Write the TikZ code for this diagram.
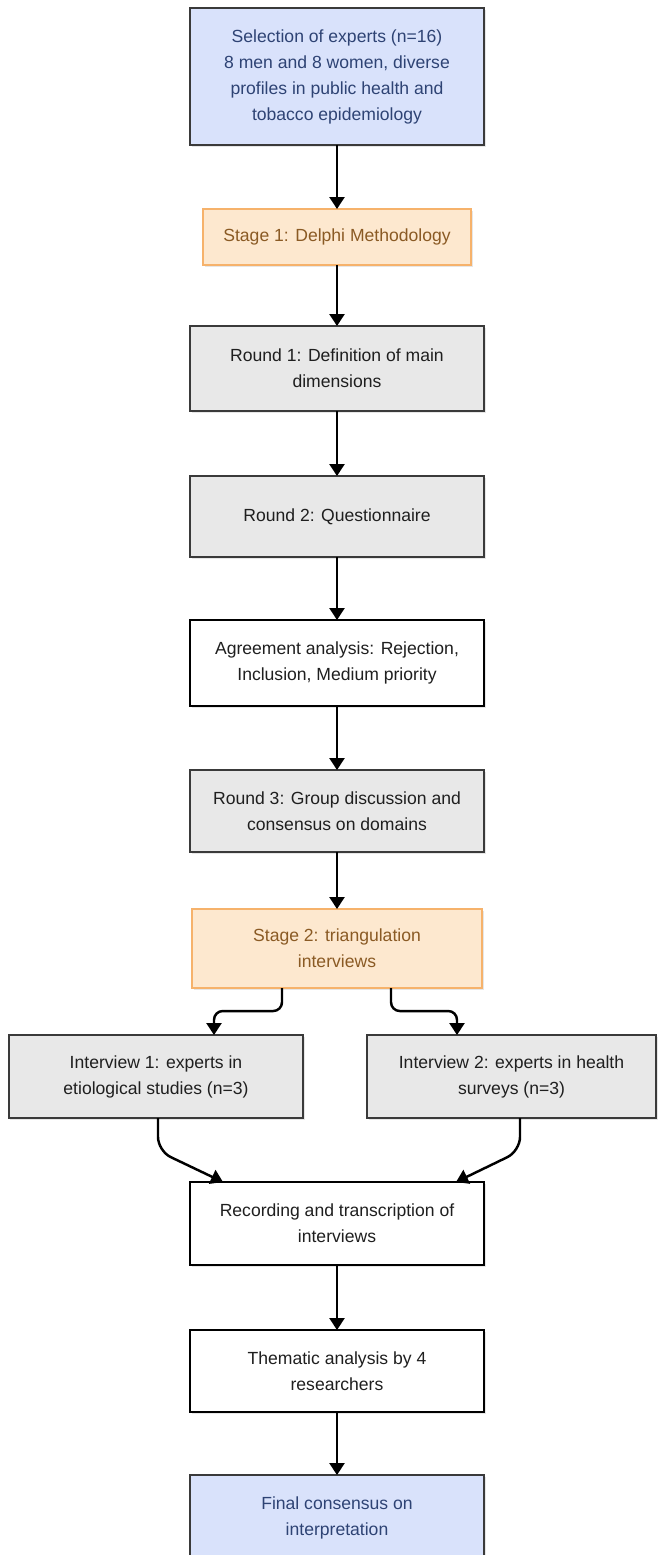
\documentclass[tikz,border=0pt]{standalone}
\usepackage{fontspec}
\setmainfont{Liberation Sans}
\usetikzlibrary{arrows.meta, positioning, shadows}
\definecolor{cblue}{HTML}{D9E2FB}
\definecolor{cbluetxt}{HTML}{2E4374}
\definecolor{corange}{HTML}{FDE8CF}
\definecolor{corangeln}{HTML}{F6B26B}
\definecolor{corangetxt}{HTML}{8A5A24}
\definecolor{cgray}{HTML}{E8E8E8}
\definecolor{cline}{HTML}{3A3A3A}

\begin{document}
\begin{tikzpicture}[
  x=0.2mm, y=-0.2mm,
  font=\fontsize{10}{14.8}\selectfont,
  >={Triangle[length=2.4mm, width=3mm]},
  box/.style={draw=cline, line width=1.1pt, align=center, minimum width=58.8mm,
              minimum height=16.6mm, inner sep=0pt, outer sep=0pt, text=black!88,
              drop shadow={shadow xshift=0.3mm, shadow yshift=-0.4mm, opacity=0.2}},
  blu/.style={box, fill=cblue, text=cbluetxt},
  stg/.style={box, fill=corange, draw=corangeln, line width=0.6pt, text=corangetxt},
  rnd/.style={box, fill=cgray},
  chk/.style={box, fill=white, draw=black, line width=1.6pt},
  arr/.style={->, line width=1.4pt, draw=black},
  ]
\clip (0,0) rectangle (658,1555);

\node[blu, minimum height=27.4mm] (sel) at (337,76.5) {Selection of experts (n=16)\\8 men and 8 women, diverse\\profiles in public health and\\tobacco epidemiology};
\node[stg, minimum width=53.6mm, minimum height=11.2mm, below=12.8mm of sel] (st1) {Stage 1: Delphi Methodology};
\node[rnd, minimum height=17mm, below=12.2mm of st1] (r1) {Round 1: Definition of main\\dimensions};
\node[rnd, minimum height=16.2mm, below=13mm of r1] (r2) {Round 2: Questionnaire};
\node[chk, minimum height=17.2mm, below=12.6mm of r2] (agr) {Agreement analysis: Rejection,\\Inclusion, Medium priority};
\node[rnd, minimum height=16.4mm, below=12.8mm of agr] (r3) {Round 3: Group discussion and\\consensus on domains};
\node[stg, minimum width=58mm, minimum height=15.8mm, below=11.4mm of r3] (st2) {Stage 2: triangulation\\interviews};

\node[rnd, below=9.4mm of st2, xshift=-36.2mm] (int1) {Interview 1: experts in\\etiological studies (n=3)};
\node[rnd, minimum width=57.8mm, below=9.4mm of st2, xshift=34.9mm] (int2) {Interview 2: experts in health\\surveys (n=3)};

\node[chk, below=38.8mm of st2] (rec) {Recording and transcription of\\interviews};
\node[chk, minimum height=16.4mm, below=13mm of rec] (them) {Thematic analysis by 4\\researchers};
\node[blu, minimum height=17mm, below=12.6mm of them] (fin) {Final consensus on\\interpretation};

\draw[arr] (sel) -- (st1);
\draw[arr] (st1) -- (r1);
\draw[arr] (r1) -- (r2);
\draw[arr] (r2) -- (agr);
\draw[arr] (agr) -- (r3);
\draw[arr] (r3) -- (st2);

% split into the two interview groups
\draw[arr, rounded corners=5pt] ([xshift=-11mm]st2.south) -- ++(0,-4.6mm) -| ([xshift=11.6mm]int1.north);
\draw[arr, rounded corners=5pt] ([xshift=10.8mm]st2.south) -- ++(0,-4.6mm) -| ([xshift=-10.9mm]int2.north);

% merge again
\draw[arr, rounded corners=8pt] ([xshift=0.4mm]int1.south) -- ++(0,-6.6mm) -- ([xshift=-22.8mm]rec.north);
\draw[arr, rounded corners=8pt] ([xshift=1.7mm]int2.south) -- ++(0,-6.6mm) -- ([xshift=23.8mm]rec.north);

\draw[arr] (rec) -- (them);
\draw[arr] (them) -- (fin);
\end{tikzpicture}
\end{document}
